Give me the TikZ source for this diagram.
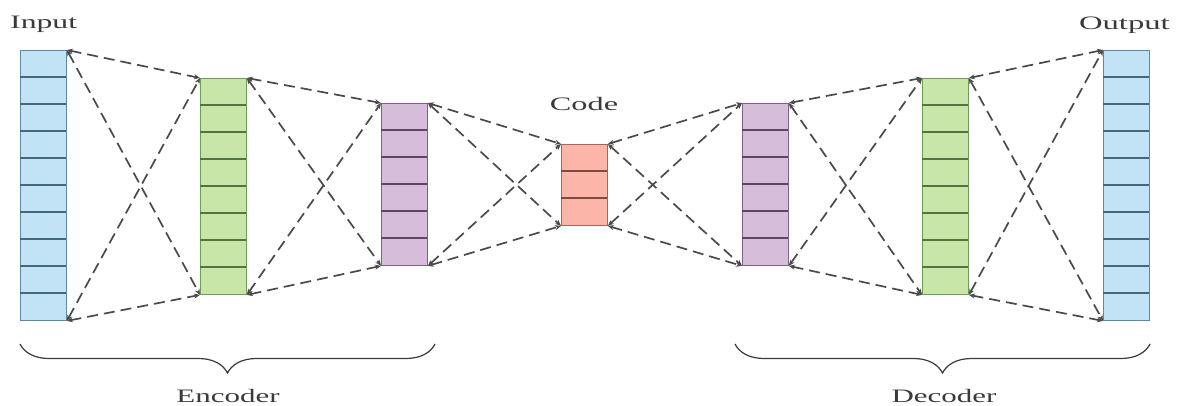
\documentclass[tikz,border=0pt]{standalone}
\usepackage{fontspec}
\setmainfont{Liberation Serif}
\usetikzlibrary{arrows.meta,decorations.pathreplacing,calc}
\definecolor{bluefill}{HTML}{C2E2F6}
\definecolor{blueline}{HTML}{5B8AA6}
\definecolor{greenfill}{HTML}{C8E6A8}
\definecolor{greenline}{HTML}{6F9A58}
\definecolor{purplefill}{HTML}{D6BEDB}
\definecolor{purpleline}{HTML}{7E5F86}
\definecolor{redfill}{HTML}{FBB6A9}
\definecolor{redline}{HTML}{A8645A}
\definecolor{conncol}{HTML}{4A4A4A}
\definecolor{txtcol}{HTML}{3A3A3A}
\tikzset{
  layerbox/.style={draw=#1, line width=0.9pt, minimum width=46pt, inner sep=0pt, anchor=north west},
  conn/.style={draw=conncol, line width=1.7pt, dash pattern=on 11pt off 6pt,
     {Stealth[length=6pt,width=5pt]}-{Stealth[length=6pt,width=5pt]}},
  lbl/.style={text=txtcol, inner sep=0pt, font=\fontsize{19}{22}\selectfont},
  bracestyle/.style={draw=txtcol, line width=1.2pt, decorate, decoration={brace, mirror, amplitude=29pt}}
}
\newcommand{\mklayer}[7]{%
  \node[layerbox=#6, fill=#5, minimum height=#4*27pt] (#1) at (#2,#3) {};
  \foreach \k in {1,...,#7}{
    \draw[#6!75!black, line width=1.2pt] ($(#1.north west)+(0,\k*27)$) -- ++(46,0);
  }
}
\begin{document}
\begin{tikzpicture}[x=1pt,y=-1pt]
\useasboundingbox[fill=white] (0,0) rectangle (1177,405);
\mklayer{in}{20}{50}{10}{bluefill}{blueline}{9}
\mklayer{ga}{200}{78}{8}{greenfill}{greenline}{7}
\mklayer{pa}{381}{103}{6}{purplefill}{purpleline}{5}
\mklayer{code}{561}{144}{3}{redfill}{redline}{2}
\mklayer{pb}{742}{103}{6}{purplefill}{purpleline}{5}
\mklayer{gb}{922}{78}{8}{greenfill}{greenline}{7}
\mklayer{out}{1103}{50}{10}{bluefill}{blueline}{9}
\foreach \a/\b in {in/ga, ga/pa, pa/code, code/pb, pb/gb, gb/out}{
  \draw[conn] (\a.north east) -- (\b.north west);
  \draw[conn] (\a.south east) -- (\b.south west);
  \draw[conn] (\a.north east) -- (\b.south west);
  \draw[conn] (\a.south east) -- (\b.north west);
}
\node[lbl, anchor=base west] (tin) at (10,28) {\scalebox{1.67}[1]{Input}};
\node[lbl, anchor=base east] (tout) at (1170,29) {\scalebox{1.72}[1]{Output}};
\node[lbl, anchor=base] (tcode) at (584,110) {\scalebox{1.7}[1]{Code}};
\coordinate (encL) at (20,344);
\coordinate (encR) at (435,344);
\coordinate (decL) at (735,344);
\coordinate (decR) at (1150,344);
\draw[bracestyle] (encL) -- (encR);
\draw[bracestyle] (decL) -- (decR);
\node[lbl, anchor=base] (tenc) at (228,402) {\scalebox{1.63}[1]{Encoder}};
\node[lbl, anchor=base] (tdec) at (944,402) {\scalebox{1.63}[1]{Decoder}};
\end{tikzpicture}
\end{document}
